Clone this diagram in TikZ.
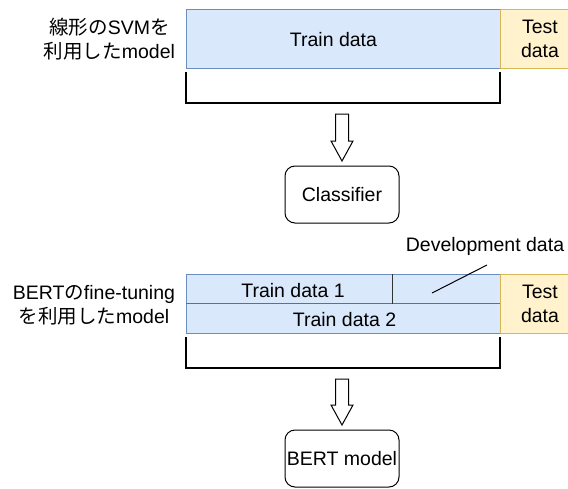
\documentclass[tikz,border=0pt]{standalone}
\usepackage{fontspec}
\setmainfont{Liberation Sans}
\newfontfamily\cjk{Noto Sans CJK JP}
\usetikzlibrary{calc}

\definecolor{trainfill}{HTML}{DAE8FC}
\definecolor{trainline}{HTML}{6C8EBF}
\definecolor{testfill}{HTML}{FFF2CC}
\definecolor{testline}{HTML}{D6B656}
\definecolor{splitgray}{HTML}{6E6E6E}

\tikzset{
  every node/.style={font=\fontsize{19.5pt}{24pt}\selectfont, inner sep=0pt, outer sep=0pt},
  trainbox/.style={rectangle, fill=trainfill, draw=trainline, line width=1pt},
  testbox/.style={rectangle, fill=testfill, draw=testline, line width=1pt, align=center},
  cellbox/.style={rectangle, fill=trainfill},
  modelbox/.style={rectangle, rounded corners=10pt, draw=black, line width=1pt,
                   minimum width=114pt, minimum height=57pt},
  sidelabel/.style={align=center, anchor=east},
  bracket/.style={draw=black, line width=2pt},
  hollow/.style={draw=black, fill=white, line width=1pt, line join=miter},
}

% hollow block arrow from #1 (tail centre) to #2 (tip)
\newcommand{\hollowarrow}[2]{%
  \draw[hollow] ($(#1)+(-6.5,0)$) -- ($(#2)+(-6.5,-20)$) -- ($(#2)+(-11,-20)$)
    -- (#2) -- ($(#2)+(11,-20)$) -- ($(#2)+(6.5,-20)$) -- ($(#1)+(6.5,0)$) -- cycle;}

\begin{document}
\begin{tikzpicture}[x=1pt, y=-1pt]
  \clip (0,0) rectangle (568,488);
  \fill[white] (0,0) rectangle (568,488);

  % ---------- linear SVM ----------
  \node[trainbox, minimum width=314pt, minimum height=59pt, anchor=north west]
    (train) at (186,9) {};
  \node (traintext) at ($(train.center)+(-9.5,1)$) {Train data};
  \node[testbox, minimum width=80pt, minimum height=59pt, anchor=north west]
    (test) at (500,9) {Test\\data};
  \node[sidelabel] (svmlabel) at (175,39) {{\cjk 線形の}SVM{\cjk を}\\{\cjk 利用した}model};

  \coordinate (b1l) at (186,72);
  \coordinate (b1r) at (500,72);
  \draw[bracket] (b1l) -- ++(0,31) -| (b1r);

  \node[modelbox] (clf) at (342,194.5) {Classifier};
  \coordinate (a1s) at (342,114);
  \coordinate (a1e) at ($(clf.north)+(0,-5)$);
  \hollowarrow{a1s}{a1e}

  % ---------- BERT fine-tuning ----------
  \node[cellbox, minimum width=206pt, minimum height=29.5pt, anchor=north west]
    (train1) at (186,274) {};
  \node (train1text) at ($(train1.center)+(4,2)$) {Train data 1};
  \node[cellbox, minimum width=108pt, minimum height=29.5pt, anchor=north west]
    (dev) at (392,274) {};
  \node[cellbox, minimum width=314pt, minimum height=29.5pt, anchor=north west]
    (train2) at (186,303.5) {};
  \node (train2text) at ($(train2.center)+(1.5,1)$) {Train data 2};
  \draw[trainline, line width=1pt] (train1.north west) rectangle (train2.south east);
  \draw[splitgray, line width=1.5pt] (train2.north west) -- (train2.north east);
  \draw[black!80, line width=1pt] (dev.north west) -- (dev.south west);
  \node[testbox, minimum width=80pt, minimum height=59pt, anchor=north west]
    (test2) at (500,274) {Test\\data};
  \node[sidelabel] (bertlabel) at (175,305) {BERT{\cjk の}fine-tuning\\{\cjk を利用した}model};

  \node (devlabel) at (485,246) {Development data};
  \coordinate (devpt) at (432,293);
  \draw[black, line width=1pt] (devpt) -- (487,265);

  \coordinate (b2l) at (186,337);
  \coordinate (b2r) at (500,337);
  \draw[bracket] (b2l) -- ++(0,31) -| (b2r);

  \node[modelbox] (bert) at (342,458.5) {BERT model};
  \coordinate (a2s) at (342,379);
  \coordinate (a2e) at ($(bert.north)+(0,-5)$);
  \hollowarrow{a2s}{a2e}
\end{tikzpicture}
\end{document}
